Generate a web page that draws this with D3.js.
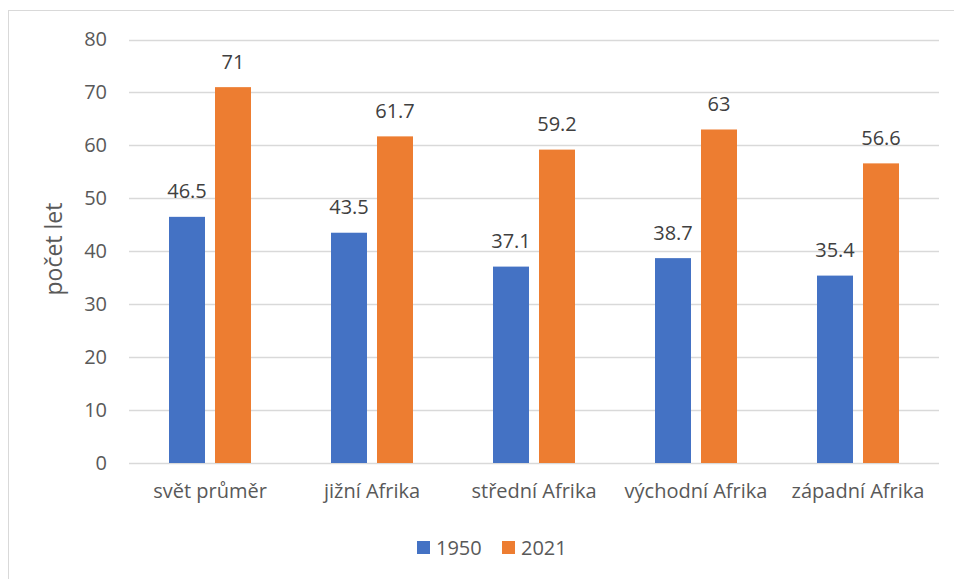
<!DOCTYPE html>
<html>
<head>
<meta charset="utf-8">
<script src="https://cdn.jsdelivr.net/npm/d3@7"></script>
<style>
  html, body { margin: 0; padding: 0; background: #fff; }
  svg { display: block; }
  text { font-family: "Open Sans", "Noto Sans", sans-serif; }
</style>
</head>
<body>
<svg id="chart" width="954" height="579"></svg>
<script>
const categories = ["svět průměr", "jižní Afrika", "střední Afrika", "východní Afrika", "západní Afrika"];
const seriesNames = ["1950", "2021"];
const values1950 = [46.5, 43.5, 37.1, 38.7, 35.4];
const values2021 = [71, 61.7, 59.2, 63, 56.6];
const yTicks = [0, 10, 20, 30, 40, 50, 60, 70, 80];
const colors = ["#4472C4", "#ED7D31"];
const yTitle = "počet let";

const svg = d3.select("#chart");
const W = 954, H = 579;

// outer chart border (cropped on the right/bottom as in reference)
svg.append("rect")
  .attr("x", 8.5).attr("y", 10.5)
  .attr("width", W + 10).attr("height", H + 10)
  .attr("fill", "#fff").attr("stroke", "#d9d9d9").attr("stroke-width", 1);

const x0 = d3.scaleBand().domain(categories).range([129, 939]).paddingInner(0).paddingOuter(0);
const x1 = d3.scaleBand().domain(seriesNames).range([0, 82]).paddingInner(10 / 46).paddingOuter(0);
const y = d3.scaleLinear().domain([0, 80]).range([463, 39.5]);

// gridlines
svg.append("g").selectAll("line").data(yTicks).join("line")
  .attr("x1", 129).attr("x2", 939)
  .attr("y1", d => Math.round(y(d)) + 0.5).attr("y2", d => Math.round(y(d)) + 0.5)
  .attr("stroke", "#d9d9d9").attr("stroke-width", 1.5);

// y axis labels
const yAxis = d3.axisLeft(y).tickValues(yTicks).tickSize(0).tickPadding(0);
const gy = svg.append("g").attr("transform", "translate(107,0)").call(yAxis);
gy.select(".domain").remove();
gy.selectAll("text").attr("fill", "#595959").style("font-size", "20px")
  .style("font-family", "'Open Sans', sans-serif");

// y title
svg.append("text")
  .attr("transform", `translate(62,249) rotate(-90)`)
  .attr("text-anchor", "middle")
  .attr("fill", "#595959").style("font-size", "23px")
  .text(yTitle);

const data = categories.map((c, i) => ({ cat: c, vals: [
  { s: "1950", v: values1950[i] }, { s: "2021", v: values2021[i] } ] }));

const groups = svg.append("g").selectAll("g").data(data).join("g")
  .attr("transform", d => `translate(${x0(d.cat) + (x0.bandwidth() - 82) / 2},0)`);

groups.selectAll("rect").data(d => d.vals).join("rect")
  .attr("x", d => x1(d.s)).attr("width", x1.bandwidth())
  .attr("y", d => y(d.v)).attr("height", d => y(0) - y(d.v))
  .attr("fill", (d, i) => colors[i]);

groups.selectAll("text.lbl").data(d => d.vals).join("text")
  .attr("class", "lbl")
  .attr("x", d => x1(d.s) + x1.bandwidth() / 2)
  .attr("y", d => y(d.v) - 18.5)
  .attr("text-anchor", "middle")
  .attr("fill", "#404040").style("font-size", "20px")
  .text(d => d.v);

// x axis labels
const xAxis = d3.axisBottom(x0).tickSize(0).tickPadding(0);
const gx = svg.append("g").attr("transform", "translate(0,484)").call(xAxis);
gx.select(".domain").remove();
gx.selectAll("text").attr("fill", "#595959").style("font-size", "20px")
  .style("font-family", "'Open Sans', sans-serif");

// legend
const legend = svg.append("g");
const legendItems = [{ n: seriesNames[0], x: 417 }, { n: seriesNames[1], x: 502 }];
legendItems.forEach((d, i) => {
  legend.append("rect").attr("x", d.x).attr("y", 541).attr("width", 13).attr("height", 13).attr("fill", colors[i]);
  legend.append("text").attr("x", d.x + 19).attr("y", 555)
    .attr("fill", "#595959").style("font-size", "20px").text(d.n);
});
</script>
</body>
</html>
